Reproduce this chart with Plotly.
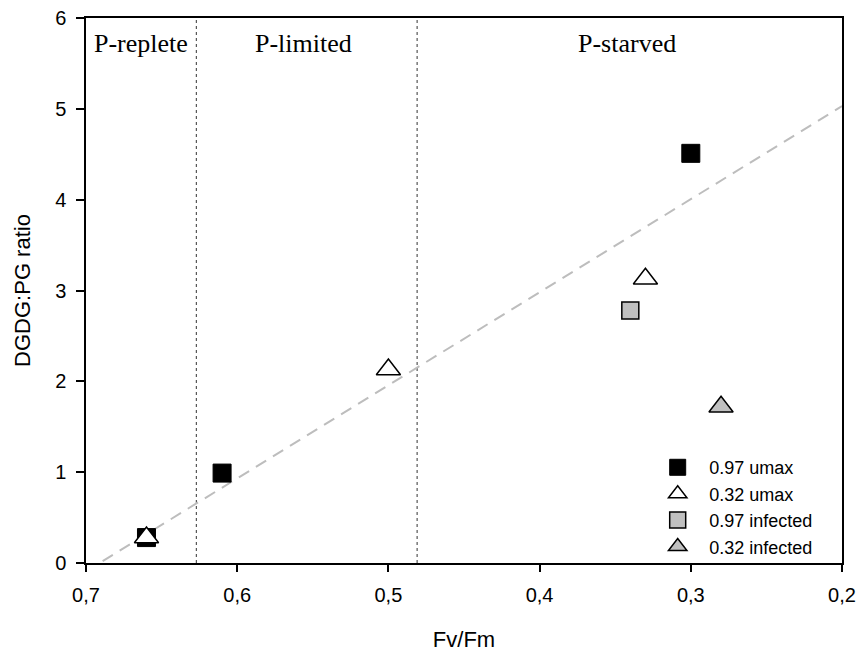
import plotly.graph_objects as go

# Data
series_names = ["0.97 umax", "0.32 umax", "0.97 infected", "0.32 infected"]
umax97_x = [0.66, 0.61, 0.30]
umax97_y = [0.28, 0.99, 4.51]
umax32_x = [0.66, 0.50, 0.33]
umax32_y = [0.28, 2.13, 3.13]
inf97_x = [0.34]
inf97_y = [2.78]
inf32_x = [0.28]
inf32_y = [1.72]

fit_x = [0.689, 0.20]
fit_y = [0.02, 5.03]

boundaries_x = [0.627, 0.481]
region_labels = ["P-replete", "P-limited", "P-starved"]
region_centers = [0.6635, 0.556, 0.342]
region_label_y = 5.72

x_ticks = [0.7, 0.6, 0.5, 0.4, 0.3, 0.2]
y_ticks = [0, 1, 2, 3, 4, 5, 6]

fig = go.Figure()

fig.add_trace(go.Scatter(x=fit_x, y=fit_y, mode="lines", showlegend=False,
                         line=dict(color="#bdbdbd", width=2, dash="12px,8px"),
                         hoverinfo="skip"))

fig.add_trace(go.Scatter(x=umax97_x, y=umax97_y, mode="markers", name=series_names[0],
                         marker=dict(symbol="square", size=18, color="black",
                                     line=dict(color="black", width=1))))
fig.add_trace(go.Scatter(x=umax32_x, y=umax32_y, mode="markers", name=series_names[1],
                         marker=dict(symbol="triangle-up", size=21, color="white",
                                     line=dict(color="black", width=1.5))))
fig.add_trace(go.Scatter(x=inf97_x, y=inf97_y, mode="markers", name=series_names[2],
                         marker=dict(symbol="square", size=17, color="#c0c0c0",
                                     line=dict(color="black", width=1.5))))
fig.add_trace(go.Scatter(x=inf32_x, y=inf32_y, mode="markers", name=series_names[3],
                         marker=dict(symbol="triangle-up", size=21, color="#c0c0c0",
                                     line=dict(color="black", width=1.5))))

for bx in boundaries_x:
    fig.add_shape(type="line", x0=bx, x1=bx, y0=0, y1=6, xref="x", yref="y",
                  line=dict(color="#555555", width=1.2, dash="dot"), layer="below")

for lab, cx in zip(region_labels, region_centers):
    fig.add_annotation(x=cx, y=region_label_y, text=lab, showarrow=False,
                       xref="x", yref="y",
                       font=dict(family="Liberation Serif, Times New Roman, serif",
                                 size=26, color="black"))

tick_font = dict(family="Liberation Sans, Arial, sans-serif", size=20, color="black")
title_font = dict(family="Liberation Sans, Arial, sans-serif", size=22, color="black")

fig.update_layout(
    width=859, height=652,
    margin=dict(l=86, r=17, t=18, b=89),
    plot_bgcolor="white", paper_bgcolor="white",
    separators=",.",
    font=tick_font,
    legend=dict(x=0.741, y=0.209, xanchor="left", yanchor="top",
                font=dict(family="Liberation Sans, Arial, sans-serif", size=18, color="black"),
                bgcolor="rgba(0,0,0,0)", tracegroupgap=0, itemsizing="trace",
                itemwidth=53),
    xaxis=dict(range=[0.7, 0.2], autorange=False, tickvals=x_ticks, tickformat=".1f",
               showgrid=False, zeroline=False, showline=True, linecolor="black",
               linewidth=1.5, mirror=True, ticks="outside", ticklen=7, tickwidth=1.5,
               tickcolor="black", tickfont=tick_font, automargin=False,
               ticklabelstandoff=6,
               title=dict(text="Fv/Fm", font=title_font, standoff=32)),
    yaxis=dict(range=[0, 6], tickvals=y_ticks, showgrid=False, zeroline=False,
               showline=True, linecolor="black", linewidth=1.5, mirror=True,
               ticks="outside", ticklen=8, tickwidth=1.5, tickcolor="black",
               tickfont=tick_font, automargin=False, ticklabelstandoff=6,
               title=dict(text="DGDG:PG ratio", font=title_font, standoff=18)),
)

fig.write_html(
    "out.html",
    config={"displayModeBar": False},
    post_script="document.body.style.margin='0';document.body.style.overflow='hidden';window.scrollTo(0,0);",
)
